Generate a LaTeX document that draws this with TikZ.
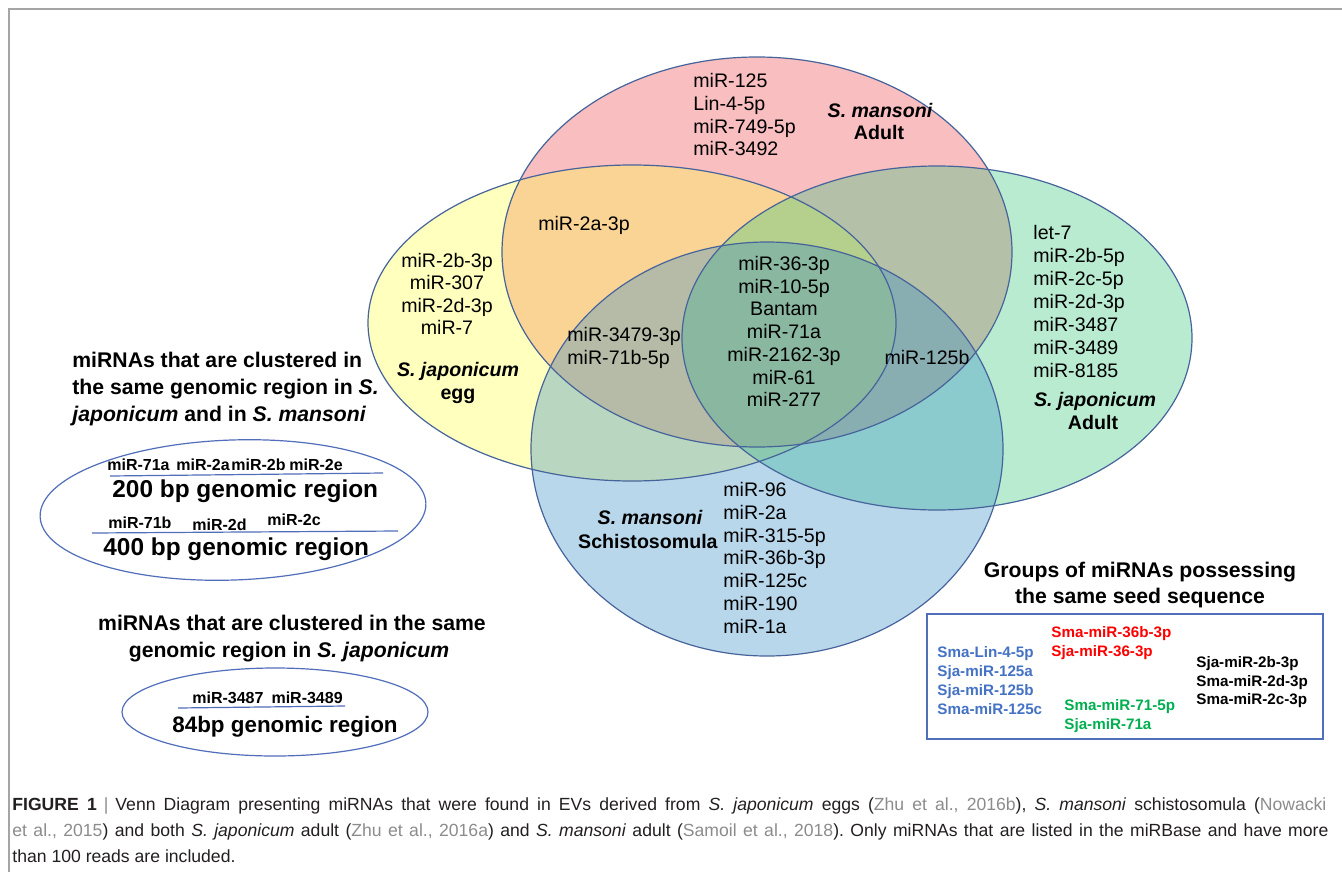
\documentclass[tikz,border=0pt]{standalone}
\usepackage{fontspec}
\setmainfont{Liberation Sans}
\frenchspacing
\definecolor{pinkF}{RGB}{235,69,75}
\definecolor{yelF}{RGB}{255,255,69}
\definecolor{grnF}{RGB}{55,198,126}
\definecolor{bluF}{RGB}{55,141,198}
\definecolor{vline}{RGB}{70,100,155}
\definecolor{lblue}{RGB}{80,110,185}
\definecolor{framegray}{RGB}{165,165,165}
\definecolor{tblue}{RGB}{68,114,196}
\definecolor{tred}{RGB}{255,0,0}
\definecolor{tgreen}{RGB}{0,176,80}
\definecolor{capgray}{RGB}{140,140,140}
\definecolor{captext}{RGB}{35,31,32}
\begin{document}
\begin{tikzpicture}[x=0.5pt,y=-0.5pt,
  lbl/.style={inner sep=0pt, text height=0.72em, text depth=0pt, font=\fontsize{9.8}{11}\selectfont},
  head/.style={inner sep=0pt, text height=0.72em, text depth=0pt, font=\fontsize{10.6}{13}\selectfont\bfseries},
  small/.style={inner sep=0pt, text height=0.72em, text depth=0pt, font=\fontsize{8}{9}\selectfont\bfseries},
  region/.style={inner sep=0pt, text height=0.72em, text depth=0pt, font=\fontsize{12.2}{14}\selectfont\bfseries},
  seed/.style={inner sep=0pt, text height=0.72em, text depth=0pt, font=\fontsize{7.6}{9}\selectfont\bfseries},
  captn/.style={inner sep=0pt, text height=0.72em, text depth=0pt, font=\fontsize{8.8}{10}\selectfont, text=captext},
  venn/.style={fill opacity=0.35},
  outl/.style={draw=vline, line width=0.6pt},
  clus/.style={draw=lblue, line width=0.6pt}]
\useasboundingbox (0,0) rectangle (1342,872);
\fill[white] (0,0) rectangle (1342,872);
% frame
\draw[framegray, line width=0.8pt] (9,872) -- (9,9) -- (1342,9);

% Venn fills
\fill[venn, pinkF] (757,252) ellipse [x radius=255, y radius=195];
\fill[venn, yelF] (632,323) ellipse [x radius=264, y radius=158];
\fill[venn, grnF] (937,338) ellipse [x radius=255, y radius=172];
\fill[venn, bluF] (767,449) ellipse [x radius=236, y radius=207];
\draw[outl] (757,252) ellipse [x radius=255, y radius=195];
\draw[outl] (632,323) ellipse [x radius=264, y radius=158];
\draw[outl] (937,338) ellipse [x radius=255, y radius=172];
\draw[outl] (767,449) ellipse [x radius=236, y radius=207];

% pink labels
\node[lbl, anchor=west] (p1) at (693,80) {miR-125};
\node[lbl, anchor=west] (p2) at (693,103) {Lin-4-5p};
\node[lbl, anchor=west] (p3) at (693,126) {miR-749-5p};
\node[lbl, anchor=west] (p4) at (693,148) {miR-3492};
\node[lbl] (pT1) at (880,110) {\bfseries\itshape S. mansoni};
\node[lbl] (pT2) at (879,132) {\bfseries Adult};
% yellow labels
\node[lbl] (y1) at (447,260) {miR-2b-3p};
\node[lbl] (y2) at (447,282) {miR-307};
\node[lbl] (y3) at (447,305) {miR-2d-3p};
\node[lbl] (y4) at (447,327) {miR-7};
\node[lbl] (yT1) at (458,369) {\bfseries\itshape S. japonicum};
\node[lbl] (yT2) at (458,392) {\bfseries egg};
\node[lbl] (py1) at (584,223) {miR-2a-3p};
\node[lbl, anchor=west] (pyb1) at (567,334) {miR-3479-3p};
\node[lbl, anchor=west] (pyb2) at (567,357) {miR-71b-5p};
% center
\node[lbl] (c1) at (784,263) {miR-36-3p};
\node[lbl] (c2) at (784,286) {miR-10-5p};
\node[lbl] (c3) at (784,308) {Bantam};
\node[lbl] (c4) at (784,331) {miR-71a};
\node[lbl] (c5) at (784,354) {miR-2162-3p};
\node[lbl] (c6) at (784,377) {miR-61};
\node[lbl] (c7) at (784,399) {miR-277};
\node[lbl] (pgb) at (927,357) {miR-125b};
% green labels
\node[lbl, anchor=west] (g1) at (1033,232) {let-7};
\node[lbl, anchor=west] (g2) at (1033,255) {miR-2b-5p};
\node[lbl, anchor=west] (g3) at (1033,278) {miR-2c-5p};
\node[lbl, anchor=west] (g4) at (1033,301) {miR-2d-3p};
\node[lbl, anchor=west] (g5) at (1033,324) {miR-3487};
\node[lbl, anchor=west] (g6) at (1033,347) {miR-3489};
\node[lbl, anchor=west] (g7) at (1033,370) {miR-8185};
\node[lbl] (gT1) at (1095,399) {\bfseries\itshape S. japonicum};
\node[lbl] (gT2) at (1093,422) {\bfseries Adult};
% blue labels
\node[lbl, anchor=west] (b1) at (723,489) {miR-96};
\node[lbl, anchor=west] (b2) at (723,512) {miR-2a};
\node[lbl, anchor=west] (b3) at (723,535) {miR-315-5p};
\node[lbl, anchor=west] (b4) at (723,557) {miR-36b-3p};
\node[lbl, anchor=west] (b5) at (723,580) {miR-125c};
\node[lbl, anchor=west] (b6) at (723,603) {miR-190};
\node[lbl, anchor=west] (b7) at (723,626) {miR-1a};
\node[lbl] (bT1) at (650,517) {\bfseries\itshape S. mansoni};
\node[lbl, anchor=east] (bT2) at (718,541) {\bfseries Schistosomula};

% left cluster 1
\node[head, anchor=west] (h1a) at (72,360) {miRNAs that are clustered in};
\node[head, anchor=west] (h1b) at (72,387) {the same genomic region in \textit{S.}};
\node[head, anchor=west] (h1c) at (72,414) {\textit{japonicum} and in \textit{S. mansoni}};
\draw[clus, rotate around={2:(233,510)}] (233,510) ellipse [x radius=193, y radius=70];
\node[small, anchor=west] (k1) at (107,463) {miR-71a};
\node[small, anchor=west] (k2) at (176,463) {miR-2a};
\node[small, anchor=west] (k3) at (231,463) {miR-2b};
\node[small, anchor=west] (k4) at (289,463) {miR-2e};
\coordinate (u1a) at (110,476);
\coordinate (u1b) at (383,473);
\draw[clus] (u1a) -- (u1b);
\node[region, anchor=west] (r200) at (112,490) {200 bp genomic region};
\node[small, anchor=west] (k5) at (108,521) {miR-71b};
\node[small, anchor=west] (k6) at (192,523) {miR-2d};
\node[small, anchor=west] (k7) at (267,518) {miR-2c};
\coordinate (u2a) at (92,533);
\coordinate (u2b) at (398,531);
\draw[clus] (u2a) -- (u2b);
\node[region, anchor=west] (r400) at (103,548) {400 bp genomic region};

% left cluster 2
\node[head] (h2a) at (292,623) {miRNAs that are clustered in the same};
\node[head] (h2b) at (289,650) {genomic region in \textit{S. japonicum}};
\draw[clus] (275,712) ellipse [x radius=153, y radius=44];
\node[small, anchor=west] (k8) at (192,696) {miR-3487\hspace{0.5em}miR-3489};
\coordinate (u3a) at (178,708);
\coordinate (u3b) at (345,706);
\draw[clus] (u3a) -- (u3b);
\node[region, anchor=west, font=\fontsize{11.2}{13}\selectfont\bfseries] (r84) at (172,725) {84bp genomic region};

% seed groups
\node[head] (s1) at (1140,570) {Groups of miRNAs possessing};
\node[head] (s2) at (1140,596) {the same seed sequence};
\node[draw=lblue, line width=0.7pt, minimum width=198pt, minimum height=62.5pt, inner sep=0pt] (sbox) at (1125,676.5) {};
\node[seed, anchor=west, text=tblue] (sb1) at (937,650) {Sma-Lin-4-5p};
\node[seed, anchor=west, text=tblue] (sb2) at (937,669) {Sja-miR-125a};
\node[seed, anchor=west, text=tblue] (sb3) at (937,688) {Sja-miR-125b};
\node[seed, anchor=west, text=tblue] (sb4) at (937,707) {Sma-miR-125c};
\node[seed, anchor=west, text=tred] (sr1) at (1051,630) {Sma-miR-36b-3p};
\node[seed, anchor=west, text=tred] (sr2) at (1051,649) {Sja-miR-36-3p};
\node[seed, anchor=west, text=tgreen] (sg1) at (1064,703) {Sma-miR-71-5p};
\node[seed, anchor=west, text=tgreen] (sg2) at (1064,722) {Sja-miR-71a};
\node[seed, anchor=west] (sk1) at (1196,660) {Sja-miR-2b-3p};
\node[seed, anchor=west] (sk2) at (1196,679) {Sma-miR-2d-3p};
\node[seed, anchor=west] (sk3) at (1196,697) {Sma-miR-2c-3p};

% caption
\node[captn, anchor=west] (cap1) at (12,803) {\hbox to 657pt{\textbf{FIGURE 1}\hspace{0.4em}{\color{capgray}|}\hspace{0.4em}Venn Diagram presenting miRNAs that were found in EVs derived from \textit{S. japonicum} eggs ({\color{capgray}Zhu et al., 2016b}), \textit{S. mansoni} schistosomula ({\color{capgray}Nowacki}}};
\node[captn, anchor=west] (cap2) at (12,829) {\hbox to 658pt{{\color{capgray}et al., 2015}) and both \textit{S. japonicum} adult ({\color{capgray}Zhu et al., 2016a}) and \textit{S. mansoni} adult ({\color{capgray}Samoil et al., 2018}). Only miRNAs that are listed in the miRBase and have more}};
\node[captn, anchor=west] (cap3) at (12,855) {than 100 reads are included.};
\end{tikzpicture}
\end{document}
